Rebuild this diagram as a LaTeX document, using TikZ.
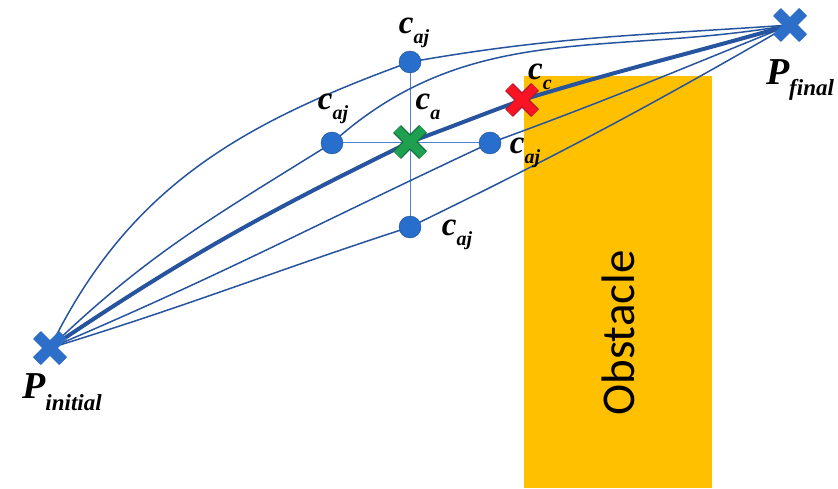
\documentclass[tikz,border=0pt]{standalone}
\usepackage{fontspec}
\setmainfont{Liberation Serif}
\newfontfamily\obsfont{Carlito}
\definecolor{pathblue}{RGB}{38,84,158}
\definecolor{nodeblue}{RGB}{40,110,205}
\definecolor{gridblue}{RGB}{80,130,205}
\definecolor{xblue}{RGB}{45,110,200}
\definecolor{xgreen}{RGB}{30,160,80}
\definecolor{xgreenD}{RGB}{20,110,60}
\definecolor{xred}{RGB}{250,20,35}
\definecolor{xredD}{RGB}{160,30,50}
\definecolor{obst}{RGB}{255,192,0}
\newcommand{\clab}[2]{{\fontsize{33}{33}\selectfont\bfseries\itshape #1\raisebox{-0.3em}{\fontsize{20}{20}\selectfont #2}}}
\newcommand{\plab}[2]{{\fontsize{38}{38}\selectfont\bfseries\itshape #1\raisebox{-0.3em}{\fontsize{23}{23}\selectfont #2}}}
\tikzset{
  thinpath/.style={draw=pathblue, line width=1.5pt},
  thickpath/.style={draw=pathblue, line width=4pt},
  gridline/.style={draw=gridblue, line width=1pt},
  cnode/.style={circle, fill=nodeblue, draw=nodeblue!70!black, line width=0.4pt, minimum size=22pt, inner sep=0pt},
  lbl/.style={inner sep=0pt, text=black},
  pics/xm/.style 2 args={code={
    \draw[#2, line width=11pt] (-13,-13)--(13,13) (-13,13)--(13,-13);
    \draw[#1, line width=8.5pt] (-13,-13)--(13,13) (-13,13)--(13,-13);
  }}
}
\begin{document}
\begin{tikzpicture}[x=1pt,y=1pt]
\useasboundingbox (0,0) rectangle (838,488);
% obstacle
\fill[obst] (524,0) rectangle (712,412);
\node[lbl, rotate=90, font=\obsfont\fontsize{47}{47}\selectfont] (obsl) at (618,155) {Obstacle};
% key points
\coordinate (Pi) at (50,140);
\coordinate (Pf) at (790,463);
\coordinate (top) at (410,426);
\coordinate (left) at (332,345);
\coordinate (right) at (490,345);
\coordinate (bot) at (410,261);
\coordinate (ca) at (410,346);
\coordinate (cc) at (522,388);
% cross lines
\draw[gridline] (top) -- (bot);
\draw[gridline] (left) -- (right);
% curves
\draw[thinpath] (Pi) to[out=64,in=200] (top) to[out=10,in=184] (Pf);
\draw[thinpath] (Pi) to[out=44,in=212] (left) to[out=42,in=190] (Pf);
\draw[thinpath] (Pi) to[out=23,in=205] (right) to[out=20,in=202] (Pf);
\draw[thinpath] (Pi) to[out=17,in=198] (bot) to[out=26,in=210] (Pf);
\draw[thickpath] (Pi) to[out=34,in=206] (ca) to[out=20,in=200] (cc) to[out=17,in=196] (Pf);
% nodes
\node[cnode] (ntop) at (top) {};
\node[cnode] (nleft) at (left) {};
\node[cnode] (nright) at (right) {};
\node[cnode] (nbot) at (bot) {};
\pic at (ca) {xm={xgreen}{xgreenD}};
\pic at (cc) {xm={xred}{xredD}};
\pic at (Pi) {xm={xblue}{xblue}};
\pic at (Pf) {xm={xblue}{xblue}};
% labels
\node[lbl] (ltop) at (414,455) {\clab{c}{aj}};
\node[lbl] (lleft) at (333,379) {\clab{c}{aj}};
\node[lbl] (lca) at (428,381) {\clab{c}{a}};
\node[lbl] (lright) at (525,335) {\clab{c}{aj}};
\node[lbl] (lbot) at (457,253) {\clab{c}{aj}};
\node[lbl] (lcc) at (540,411) {\clab{c}{c}};
\node[lbl] (lpf) at (800,408) {\plab{P}{final}};
\node[lbl] (lpi) at (62,96) {\plab{P}{initial}};
\end{tikzpicture}
\end{document}
